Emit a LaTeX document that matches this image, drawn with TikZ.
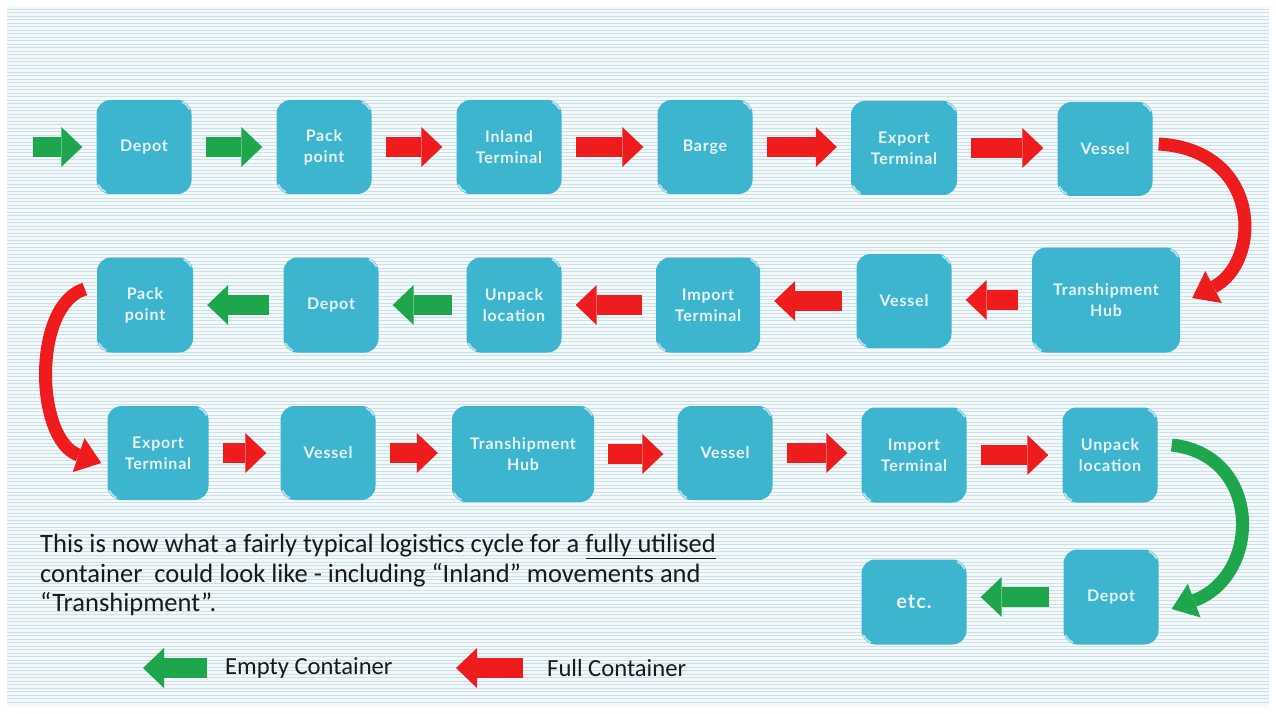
\documentclass[tikz,border=0pt]{standalone}
\usepackage{fontspec}
\setmainfont{Carlito}
\newfontfamily\boxfont[LetterSpace=5]{Lato}
\usetikzlibrary{arrows.meta,calc}
\definecolor{boxc}{HTML}{3DB5CF}
\definecolor{gr}{HTML}{1DA64B}
\definecolor{rd}{HTML}{EE1C1C}
\definecolor{bgc}{HTML}{F3F9FB}
\definecolor{bgl}{HTML}{CCE1E8}
\definecolor{txt}{HTML}{1A1A1A}
\definecolor{boxtxt}{HTML}{E8F5F8}
\begin{document}
\begin{tikzpicture}[x=1pt,y=-1pt,
  box/.style={fill=boxc, rounded corners=14pt, text=boxtxt, font=\boxfont\bfseries\fontsize{16}{21}\selectfont, align=center, inner sep=0pt},
  glint/.style={draw=boxc!35!white, line width=1.6pt, line cap=round},
  barrow/.style={line width=20pt, draw=#1, -{Triangle[width=40pt,length=21pt,line width=0pt,fill=#1]}, shorten <=14pt, shorten >=14pt},
  carrow/.style={line width=13pt, draw=#1, -{Triangle[width=36pt,length=24pt,line width=0pt,fill=#1]}},
  legtext/.style={anchor=west, inner sep=0pt, text=txt, font=\fontsize{24.6}{28}\selectfont}]
\useasboundingbox (0,0) rectangle (1276,714);
\fill[white] (0,0) rectangle (1276,714);
\fill[bgc] (7,7) rectangle (1269,707);
\foreach \yy in {9,12.5,...,705} \draw[bgl, line width=0.9pt] (7,\yy) -- (1269,\yy);

% row 1
\node[box, minimum width=95pt, minimum height=94pt] (d1) at (144,147) {Depot};
\node[box, minimum width=95pt, minimum height=94pt] (p1) at (324,147) {Pack\\point};
\node[box, minimum width=105pt, minimum height=94pt] (i1) at (509,147) {Inland\\Terminal};
\node[box, minimum width=95pt, minimum height=94pt] (b1) at (705,147) {Barge};
\node[box, minimum width=106pt, minimum height=94pt] (e1) at (904,148) {Export\\Terminal};
\node[box, minimum width=95pt, minimum height=94pt] (v1) at (1105,149) {Vessel};
% row 2
\node[box, minimum width=148pt, minimum height=105pt] (t2) at (1106,300) {Transhipment\\Hub};
\node[box, minimum width=95pt, minimum height=94pt] (v2) at (904,301) {Vessel};
\node[box, minimum width=104pt, minimum height=95pt] (m2) at (708,305) {Import\\Terminal};
\node[box, minimum width=95pt, minimum height=95pt] (u2) at (514,305) {Unpack\\location};
\node[box, minimum width=95pt, minimum height=95pt] (d2) at (331,305) {Depot};
\node[box, minimum width=96pt, minimum height=95pt] (p2) at (145,305) {Pack\\point};
% row 3
\node[box, minimum width=101pt, minimum height=94pt] (e3) at (158,453) {Export\\Terminal};
\node[box, minimum width=95pt, minimum height=94pt] (v3) at (328,453) {Vessel};
\node[box, minimum width=142pt, minimum height=96pt] (t3) at (523,454) {Transhipment\\Hub};
\node[box, minimum width=95pt, minimum height=94pt] (w3) at (725,453) {Vessel};
\node[box, minimum width=105pt, minimum height=95pt] (m3) at (914,455) {Import\\Terminal};
\node[box, minimum width=95pt, minimum height=95pt] (u3) at (1110,455) {Unpack\\location};
% row 4
\node[box, minimum width=95pt, minimum height=95pt] (d4) at (1111,597) {Depot};
\node[box, minimum width=105pt, minimum height=85pt, font=\boxfont\bfseries\fontsize{20}{24}\selectfont] (x4) at (914,602) {etc.};

% glints on the box corners
\foreach \n in {d1,p1,i1,b1,e1,v1,t2,v2,m2,u2,d2,p2,e3,v3,t3,w3,m3,u3,d4,x4}{
  \draw[glint] ($(\n.north east)+(-14,14)$) ++(292:12.5) arc (292:338:12.5);
  \draw[glint] ($(\n.south west)+(14,-14)$) ++(112:12.5) arc (112:158:12.5);
}

% straight arrows row 1
\coordinate (s0) at (33,147);
\draw[barrow=gr, shorten <=0pt] (s0) -- (s0 -| d1.west);
\draw[barrow=gr] (d1.east) -- (d1.east -| p1.west);
\draw[barrow=rd] (p1.east) -- (p1.east -| i1.west);
\draw[barrow=rd] (i1.east) -- (i1.east -| b1.west);
\draw[barrow=rd] (b1.east) -- (b1.east -| e1.west);
\draw[barrow=rd] (e1.east) -- (e1.east -| v1.west);
% row 2
\draw[barrow=rd] (t2.west) -- (t2.west -| v2.east);
\draw[barrow=rd] (v2.west) -- (v2.west -| m2.east);
\draw[barrow=rd] (m2.west) -- (m2.west -| u2.east);
\draw[barrow=gr] (u2.west) -- (u2.west -| d2.east);
\draw[barrow=gr] (d2.west) -- (d2.west -| p2.east);
% row 3
\draw[barrow=rd] (e3.east) -- (e3.east -| v3.west);
\draw[barrow=rd] (v3.east) -- (v3.east -| t3.west);
\draw[barrow=rd] (t3.east) -- (t3.east -| w3.west);
\draw[barrow=rd] (w3.east) -- (w3.east -| m3.west);
\draw[barrow=rd] (m3.east) -- (m3.east -| u3.west);
% row 4
\draw[barrow=gr] (d4.west) -- (d4.west -| x4.east);

% curved arrows
\draw[carrow=rd] ($(v1.east)+(6,-5)$) .. controls (1262,150) and (1262,262) .. ($(t2.east)+(12,-2)$);
\draw[carrow=rd] ($(p2.west)+(-12,-16)$) .. controls (32,305) and (35,440) .. ($(e3.west)+(-6,10)$);
\draw[carrow=gr] ($(u3.east)+(14,-10)$) .. controls (1262,455) and (1262,575) .. ($(d4.east)+(13,12)$);

% text
\node[anchor=north west, align=left, inner sep=0pt, text=txt, font=\fontsize{26.5}{29.5}\selectfont] (para) at (40,534)
  {This is now what a fairly typical logistics cycle for a \underline{fully utilised}\\container\ \ could look like - including “Inland” movements and\\“Transhipment”.};

% legend
\node[legtext] (lt1) at (225,668) {Empty Container};
\node[legtext] (lt2) at (547,668) {Full Container};
\coordinate (lg1a) at (207,668);
\coordinate (lg1b) at (143,668);
\coordinate (lg2a) at (523,668);
\coordinate (lg2b) at (456,668);
\draw[barrow=gr, shorten <=0pt, shorten >=0pt] (lg1a) -- (lg1b);
\draw[barrow=rd, shorten <=0pt, shorten >=0pt] (lg2a) -- (lg2b);
\end{tikzpicture}
\end{document}
